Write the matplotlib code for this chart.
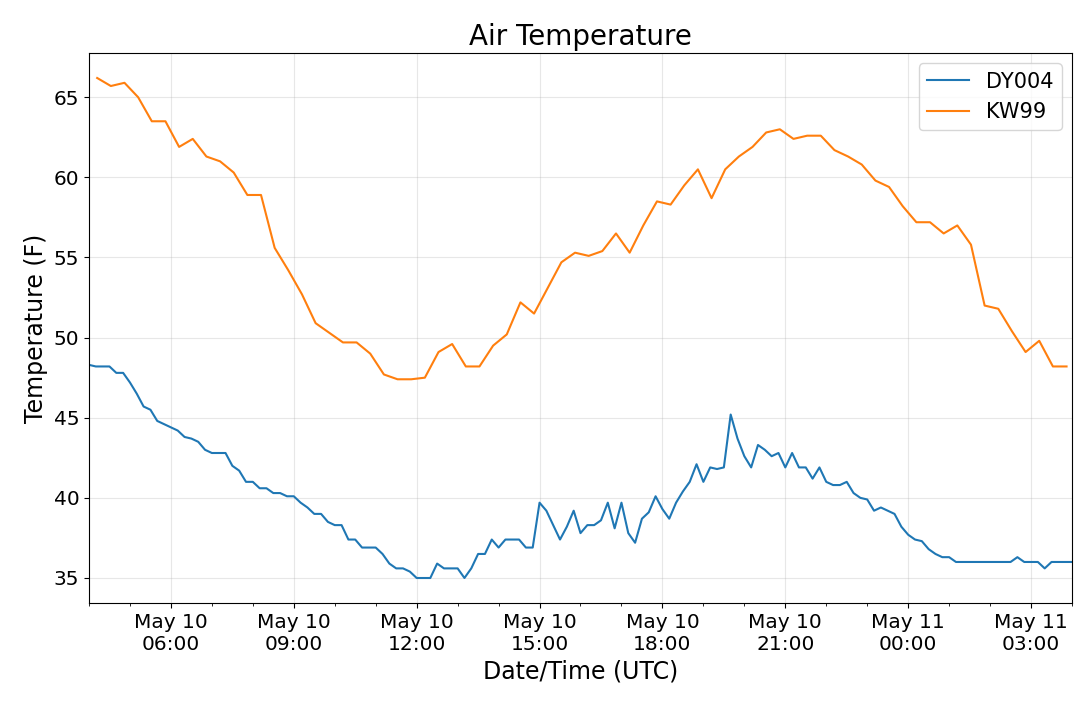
import pandas as pd
import matplotlib
matplotlib.use("Agg")
import matplotlib.pyplot as plt
import matplotlib.dates as mdates

# DY004: 10-minute readings, KW99: 20-minute readings (deg F)
dy004_start = "2019-05-10 04:00"
dy004_freq = "10min"
dy004_temp = [
    48.3, 48.2, 48.2, 48.2, 47.8, 47.8, 47.2, 46.5, 45.7, 45.5, 44.8, 44.6,
    44.4, 44.2, 43.8, 43.7, 43.5, 43.0, 42.8, 42.8, 42.8, 42.0, 41.7, 41.0,
    41.0, 40.6, 40.6, 40.3, 40.3, 40.1, 40.1, 39.7, 39.4, 39.0, 39.0, 38.5,
    38.3, 38.3, 37.4, 37.4, 36.9, 36.9, 36.9, 36.5, 35.9, 35.6, 35.6, 35.4,
    35.0, 35.0, 35.0, 35.9, 35.6, 35.6, 35.6, 35.0, 35.6, 36.5, 36.5, 37.4,
    36.9, 37.4, 37.4, 37.4, 36.9, 36.9, 39.7, 39.2, 38.3, 37.4, 38.2, 39.2,
    37.8, 38.3, 38.3, 38.6, 39.7, 38.1, 39.7, 37.8, 37.2, 38.7, 39.1, 40.1,
    39.3, 38.7, 39.7, 40.4, 41.0, 42.1, 41.0, 41.9, 41.8, 41.9, 45.2, 43.7,
    42.6, 41.9, 43.3, 43.0, 42.6, 42.8, 41.9, 42.8, 41.9, 41.9, 41.2, 41.9,
    41.0, 40.8, 40.8, 41.0, 40.3, 40.0, 39.9, 39.2, 39.4, 39.2, 39.0, 38.2,
    37.7, 37.4, 37.3, 36.8, 36.5, 36.3, 36.3, 36.0, 36.0, 36.0, 36.0, 36.0,
    36.0, 36.0, 36.0, 36.0, 36.3, 36.0, 36.0, 36.0, 35.6, 36.0, 36.0, 36.0,
    36.0,
]

kw99_start = "2019-05-10 04:12"
kw99_freq = "20min"
kw99_temp = [
    66.2, 65.7, 65.9, 65.0, 63.5, 63.5, 61.9, 62.4, 61.3, 61.0, 60.3, 58.9,
    58.9, 55.6, 54.2, 52.7, 50.9, 50.3, 49.7, 49.7, 49.0, 47.7, 47.4, 47.4,
    47.5, 49.1, 49.6, 48.2, 48.2, 49.5, 50.2, 52.2, 51.5, 53.1, 54.7, 55.3,
    55.1, 55.4, 56.5, 55.3, 57.0, 58.5, 58.3, 59.5, 60.5, 58.7, 60.5, 61.3,
    61.9, 62.8, 63.0, 62.4, 62.6, 62.6, 61.7, 61.3, 60.8, 59.8, 59.4, 58.2,
    57.2, 57.2, 56.5, 57.0, 55.8, 52.0, 51.8, 50.4, 49.1, 49.8, 48.2, 48.2,
]

dy004 = pd.Series(dy004_temp,
                  index=pd.date_range(dy004_start, periods=len(dy004_temp), freq=dy004_freq))
kw99 = pd.Series(kw99_temp,
                 index=pd.date_range(kw99_start, periods=len(kw99_temp), freq=kw99_freq))

fig = plt.figure(figsize=(10.8, 7.01), dpi=100)
ax = fig.add_subplot(111)
fig.subplots_adjust(left=0.0824, right=0.9926, top=0.9244, bottom=0.1398)

ax.plot(dy004.index, dy004.values, label="DY004")
ax.plot(kw99.index, kw99.values, label="KW99")

ax.set_xlim(dy004.index[0], dy004.index[-1])
ax.xaxis.set_major_locator(mdates.HourLocator(byhour=range(0, 24, 3)))
ax.xaxis.set_minor_locator(mdates.HourLocator())
ax.xaxis.set_major_formatter(mdates.DateFormatter("%b %d\n%H:%M"))
for lbl in ax.get_xticklabels():
    lbl.set_horizontalalignment("center")

ax.grid(True, alpha=0.3)
ax.tick_params(labelsize=14.5)
ax.set_title("Air Temperature", fontsize=20)
ax.set_xlabel("Date/Time (UTC)", fontsize=17)
ax.set_ylabel("Temperature (F)", fontsize=17)
ax.legend(loc="upper right", fontsize=15)

fig.savefig("out.png", dpi=100)
